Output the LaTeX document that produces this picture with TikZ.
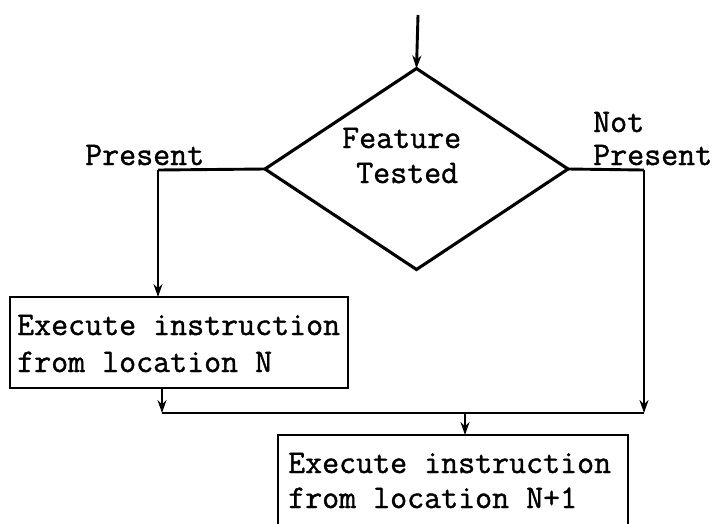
\documentclass[tikz,border=0pt]{standalone}
\usepackage{fontspec}
\newfontfamily\typew{Latin Modern Mono}[FakeBold=1.2]
\usetikzlibrary{shapes.geometric,arrows.meta}
\tikzset{
  flow/.style={line width=2.9pt, line join=miter},
  arr/.style={flow, -{Stealth[length=13pt,width=9pt]}},
  decision/.style={diamond, draw, line width=3.1pt, inner sep=0pt, outer sep=0pt,
    minimum width=303pt, minimum height=201pt},
  stepbox/.style={rectangle, draw, line width=2.8pt, inner sep=0pt, outer sep=0pt},
  lbl/.style={inner sep=0pt, anchor=base west, font=\typew\fontsize{33}{37}\selectfont}
}
\begin{document}
\begin{tikzpicture}[x=1pt, y=-1pt]
  \useasboundingbox (0,0) rectangle (714,523);
  \clip (0,0) rectangle (714,523);

  % decision
  \node[decision] (dec) at (416.5,169) {};
  \node[lbl] (f1) at (342,148) {Feature};
  \node[lbl] (f2) at (356,183) {Tested};

  % branch labels
  \node[lbl] (pres) at (85,165) {Present};
  \node[lbl] (np1) at (593,132) {Not};
  \node[lbl] (np2) at (593,165) {Present};

  % left action box
  \node[stepbox, minimum width=338pt, minimum height=91pt] (boxN) at (179,342.5) {};
  \node[lbl] (t1) at (17,335) {Execute instruction};
  \node[lbl] (t2) at (17,372) {from location N};

  % right action box (runs off the lower edge)
  \node[stepbox, minimum width=350pt, minimum height=130pt, anchor=north] (boxN1) at (453,435) {};
  \node[lbl] (t3) at (288,473) {Execute instruction};
  \node[lbl] (t4) at (288,508) {from location N+1};

  % routing points
  \coordinate (entry) at (418,15);
  \coordinate (cL) at (158,170);
  \coordinate (cR) at (644,170);
  \coordinate (outN) at (162,388);
  \coordinate (jL) at (162,413);
  \coordinate (jR) at (644,413);
  \coordinate (jM) at (465,413);

  % connectors
  \draw[arr] (entry) -- (dec.north);
  \draw[flow] (dec.west) -- (cL);
  \draw[arr] (cL) -- (cL |- boxN.north);
  \draw[flow] (dec.east) -- (cR);
  \draw[arr] (cR) -- (jR);
  \draw[arr] (outN) -- (jL);
  \draw[flow] (jL) -- (jR);
  \draw[arr] (jM) -- (jM |- boxN1.north);
\end{tikzpicture}
\end{document}
